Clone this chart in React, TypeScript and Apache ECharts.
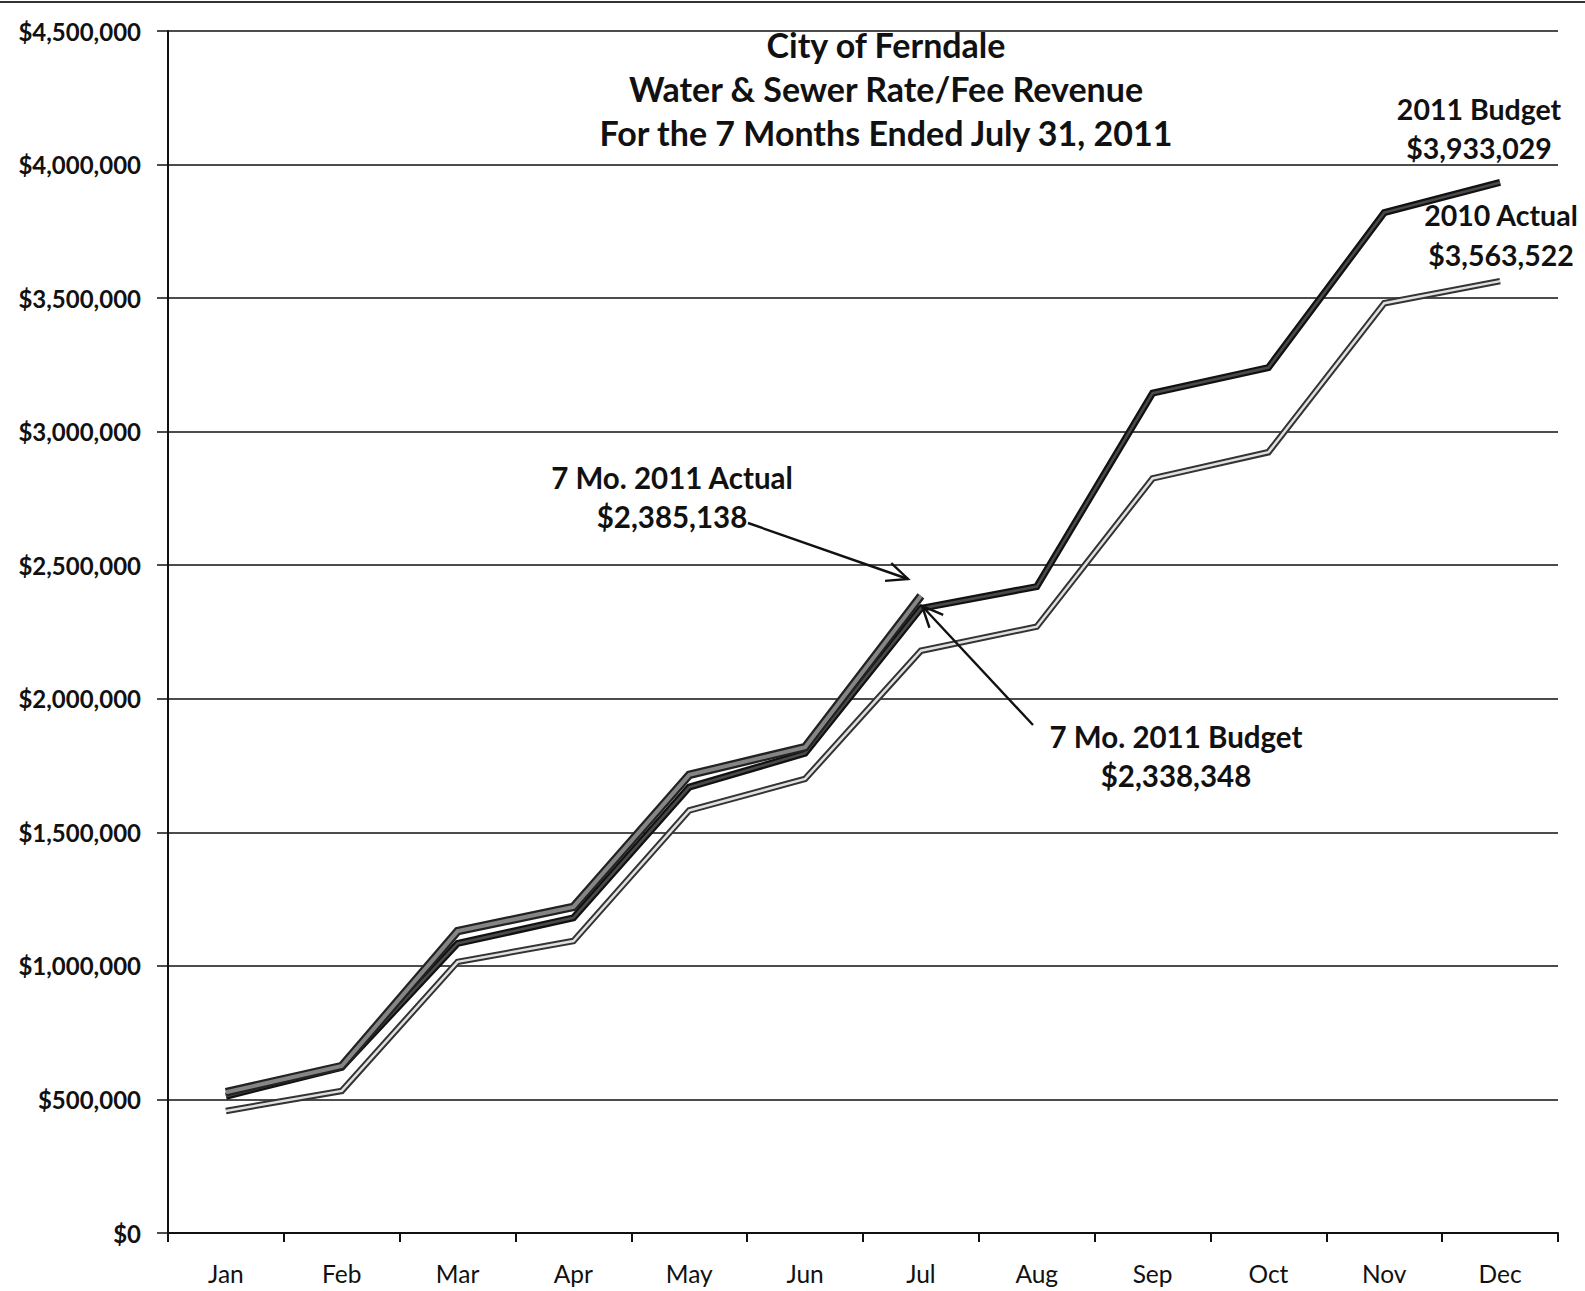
import React, { useEffect, useRef } from "react";
import * as echarts from "echarts";

const months = ["Jan", "Feb", "Mar", "Apr", "May", "Jun", "Jul", "Aug", "Sep", "Oct", "Nov", "Dec"];
const budget2011 = [512000, 620000, 1084000, 1180000, 1669000, 1796000, 2338348, 2420000, 3144000, 3240000, 3820000, 3933029];
const actual2011 = [527000, 625000, 1130000, 1221000, 1715000, 1819000, 2385138];
const actual2010 = [457000, 532000, 1015000, 1093000, 1582000, 1700000, 2180000, 2270000, 2825000, 2923000, 3481000, 3563522];
const titleLines = ["City of Ferndale", "Water & Sewer Rate/Fee Revenue", "For the 7 Months Ended July 31, 2011"];

const FONT = "Lato, 'Noto Sans', sans-serif";

function arrow(x1: number, y1: number, x2: number, y2: number, len = 23, spread = 0.42) {
  const a = Math.atan2(y2 - y1, x2 - x1);
  const p1 = [x2 - len * Math.cos(a - spread), y2 - len * Math.sin(a - spread)];
  const p2 = [x2 - len * Math.cos(a + spread), y2 - len * Math.sin(a + spread)];
  return [
    { type: "line", shape: { x1, y1, x2, y2 }, style: { stroke: "#111", lineWidth: 2.4 }, z: 100 },
    { type: "polyline", shape: { points: [p1, [x2, y2], p2] }, style: { stroke: "#111", lineWidth: 2.4, fill: null }, z: 100 },
  ];
}

function txt(x: number, y: number, text: string, size: number, align = "center") {
  return {
    type: "text",
    x,
    y,
    z: 100,
    style: { text, fill: "#111", font: `bold ${size}px ${FONT}`, textAlign: align, textVerticalAlign: "middle" },
  };
}

export default function App() {
  const ref = useRef<HTMLDivElement>(null);
  useEffect(() => {
    const chart = echarts.init(ref.current!, undefined, { renderer: "svg" });
    const lineSeries = (name: string, data: number[], color: string, width: number, z: number) => ({
      type: "line",
      name,
      data,
      symbol: "none",
      z,
      lineStyle: { color, width, cap: "butt", join: "miter" },
      silent: true,
    });
    chart.setOption({
      animation: false,
      backgroundColor: "#fff",
      grid: { left: 168, right: 27, top: 31, bottom: 58 },
      xAxis: {
        type: "category",
        data: months,
        boundaryGap: true,
        axisLine: { show: true, lineStyle: { color: "#111", width: 2 } },
        axisTick: { show: true, length: 9, interval: 0, lineStyle: { color: "#111", width: 2 } },
        axisLabel: { color: "#111", fontSize: 24.5, fontFamily: FONT, margin: 28, interval: 0 },
        splitLine: { show: false },
      },
      yAxis: {
        type: "value",
        min: 0,
        max: 4500000,
        interval: 500000,
        axisLine: { show: true, lineStyle: { color: "#111", width: 2 } },
        axisTick: { show: true, length: 11, lineStyle: { color: "#111", width: 1.5 } },
        splitLine: { show: true, lineStyle: { color: "#111", width: 1.5 } },
        axisLabel: {
          color: "#111",
          fontSize: 24,
          fontWeight: "bold",
          fontFamily: FONT,
          margin: 27,
          formatter: (v: number) => "$" + v.toLocaleString("en-US"),
        },
      },
      series: [
        lineSeries("2010 Actual", actual2010, "#333", 6.5, 2),
        lineSeries("2010 Actual inner", actual2010, "#e0e0e0", 2.5, 3),
        lineSeries("2011 Budget", budget2011, "#111", 7, 4),
        lineSeries("2011 Budget inner", budget2011, "#4a4a4a", 2.5, 5),
        lineSeries("2011 Actual", actual2011, "#222", 8.5, 6),
        lineSeries("2011 Actual inner", actual2011, "#858585", 4, 7),
      ],
      graphic: [
        { type: "line", shape: { x1: 0, y1: 2, x2: 1585, y2: 2 }, style: { stroke: "#333", lineWidth: 2 } },
        txt(886, 44, titleLines[0], 34),
        txt(886, 88, titleLines[1], 34),
        txt(886, 132, titleLines[2], 34),
        txt(672, 477, "7 Mo. 2011 Actual", 29.5),
        txt(672, 516, "$2,385,138", 29.5),
        txt(1176, 736, "7 Mo. 2011 Budget", 29.5),
        txt(1176, 775, "$2,338,348", 29.5),
        txt(1479, 109, "2011 Budget", 28.5),
        txt(1479, 148, "$3,933,029", 28.5),
        txt(1501, 215, "2010 Actual", 28.5),
        txt(1501, 255, "$3,563,522", 28.5),
        ...arrow(748, 523, 908, 579),
        ...arrow(1033, 725, 922, 606),
      ],
    });
    return () => chart.dispose();
  }, []);
  return <div ref={ref} style={{ position: "absolute", left: 0, top: 0, width: 1585, height: 1291 }} />;
}
